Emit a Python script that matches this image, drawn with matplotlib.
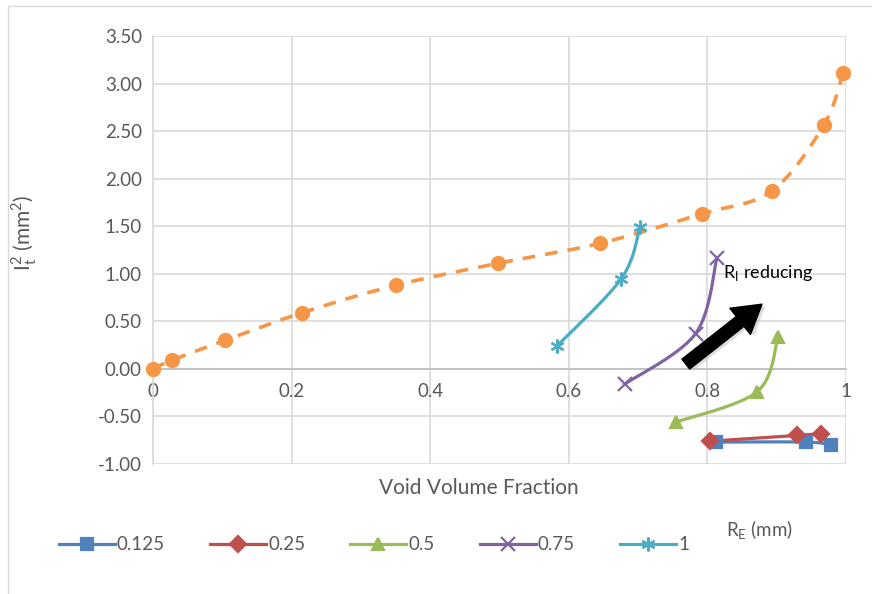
import numpy as np
import matplotlib
matplotlib.use("Agg")
import matplotlib.pyplot as plt
from matplotlib.lines import Line2D
from matplotlib.patches import Rectangle

plt.rcParams['font.family'] = ['Lato', 'DejaVu Sans']

# ---- data ----
void_x = [0.0, 0.027, 0.104, 0.215, 0.351, 0.498, 0.645, 0.792, 0.893, 0.968, 0.996]
void_y = [0.00, 0.09, 0.30, 0.59, 0.88, 1.11, 1.32, 1.63, 1.87, 2.56, 3.11]

s0125_x = [0.813, 0.943, 0.979]
s0125_y = [-0.77, -0.77, -0.80]
s025_x = [0.804, 0.929, 0.964]
s025_y = [-0.76, -0.70, -0.68]
s05_x = [0.755, 0.872, 0.902]
s05_y = [-0.56, -0.24, 0.33]
s075_x = [0.681, 0.783, 0.814]
s075_y = [-0.16, 0.37, 1.17]
s1_x = [0.583, 0.676, 0.703]
s1_y = [0.24, 0.95, 1.49]

series_labels = ['0.125', '0.25', '0.5', '0.75', '1']
xticks = [0, 0.2, 0.4, 0.6, 0.8, 1]
xtick_labels = ['0', '0.2', '0.4', '0.6', '0.8', '1']
yticks = [-1.0, -0.5, 0.0, 0.5, 1.0, 1.5, 2.0, 2.5, 3.0, 3.5]


def smooth(x, y, n=30):
    P = np.column_stack([x, y]).astype(float)
    if len(P) < 3:
        return P[:, 0], P[:, 1]
    ext = np.vstack([P[0], P, P[-1]])
    out = []
    t = np.linspace(0, 1, n)[:, None]
    for i in range(1, len(ext) - 2):
        p0, p1, p2, p3 = ext[i - 1], ext[i], ext[i + 1], ext[i + 2]
        c1 = p1 + (p2 - p0) / 6.0
        c2 = p2 - (p3 - p1) / 6.0
        seg = ((1 - t) ** 3) * p1 + 3 * ((1 - t) ** 2) * t * c1 + 3 * (1 - t) * t ** 2 * c2 + t ** 3 * p2
        out.append(seg if i == 1 else seg[1:])
    out = np.vstack(out)
    return out[:, 0], out[:, 1]


fig = plt.figure(figsize=(8.72, 5.94), dpi=100)
fig.patches.append(Rectangle((0.009, -0.05), 1.2, 1.04, transform=fig.transFigure,
                             fill=False, edgecolor='#d9d9d9', linewidth=1))
ax = fig.add_axes([0.1755, 0.2189, 0.7945, 0.7205])

grid_c = '#d9d9d9'
ax.set_xlim(0, 1)
ax.set_ylim(-1.0, 3.5)
ax.set_xticks(xticks)
ax.set_xticklabels(xtick_labels)
ax.set_yticks(yticks)
ax.set_yticklabels([f'{v:.2f}' for v in yticks])
ax.grid(True, color=grid_c, linewidth=1.2)
ax.set_axisbelow(True)
for s in ['top', 'right']:
    ax.spines[s].set_visible(False)
ax.spines['left'].set_color(grid_c)
ax.spines['bottom'].set_color('#bfbfbf')
ax.spines['bottom'].set_position(('data', 0))
ax.spines['left'].set_linewidth(1.2)
ax.spines['bottom'].set_linewidth(1.2)
ax.tick_params(length=0, labelsize=13.5, labelcolor='#595959', pad=8)
ax.tick_params(axis='x', pad=10)

orange = '#F79646'
sx, sy = smooth(void_x, void_y)
ax.plot(sx, sy, color=orange, lw=2.6, dashes=(3.5, 2.8), zorder=3)
ax.plot(void_x, void_y, 'o', color=orange, ms=10, zorder=4, clip_on=False)

colors = ['#4F81BD', '#C0504D', '#9BBB59', '#8064A2', '#4BACC6']
markers = ['s', 'D', '^', 'x', (6, 2, 0)]
msizes = [9, 8, 9, 10, 10]
data = [(s0125_x, s0125_y), (s025_x, s025_y), (s05_x, s05_y), (s075_x, s075_y), (s1_x, s1_y)]
handles = []
for (xx, yy), c, m, ms, lab in zip(data, colors, markers, msizes, series_labels):
    px, py = smooth(xx, yy)
    ax.plot(px, py, color=c, lw=2.3, zorder=5)
    ax.plot(xx, yy, linestyle='none', marker=m, color=c, ms=ms, mew=1.6, zorder=6)
    handles.append(Line2D([], [], color=c, lw=2.3, marker=m, ms=ms, mew=1.6, label=lab))

ax.set_xlabel('Void Volume Fraction', fontsize=15, color='#595959')
ax.xaxis.set_label_coords(0.47, -0.032)
ax.set_ylabel(r'I$_\mathregular{t}^\mathregular{2}$ (mm$^\mathregular{2}$)', fontsize=15, color='#595959')
ax.yaxis.set_label_coords(-0.165, 0.54)

# arrow with shadow
ax.annotate('', xy=(0.884, 0.66), xytext=(0.774, 0.03),
            arrowprops=dict(facecolor='#bbbbbb', edgecolor='none', width=9, headwidth=24, headlength=20, alpha=0.5),
            zorder=6)
ax.annotate('', xy=(0.879, 0.68), xytext=(0.769, 0.05),
            arrowprops=dict(facecolor='black', edgecolor='black', width=9, headwidth=24, headlength=20),
            zorder=7)
ax.text(0.823, 0.96, r'R$_\mathregular{I}$ reducing', fontsize=13, color='black', zorder=8)

leg = fig.legend(handles=handles, loc='center left', bbox_to_anchor=(0.048, 0.083), ncol=5,
                 frameon=False, fontsize=13.5, handlelength=3.0, handletextpad=0.1, columnspacing=2.4)
for t in leg.get_texts():
    t.set_color('#595959')
fig.text(0.832, 0.097, r'R$_\mathregular{E}$ (mm)', fontsize=13.5, color='#595959')

fig.savefig('out.png', dpi=100)
